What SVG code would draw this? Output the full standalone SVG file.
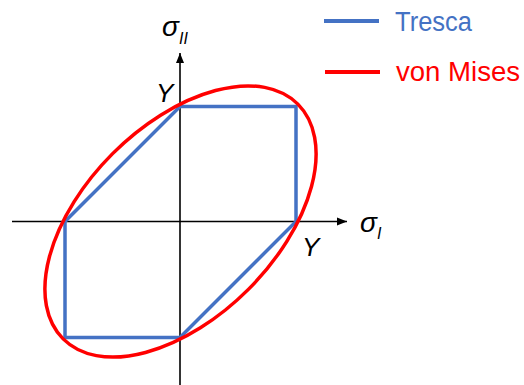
<svg xmlns="http://www.w3.org/2000/svg" width="524" height="385" viewBox="0 0 524 385">
<style>
.axis{stroke:#000;stroke-width:1.6;fill:none}
.lbl{font-family:"Liberation Sans",Arial,sans-serif;font-style:italic;fill:#000}
.leg{font-family:"Liberation Sans",Arial,sans-serif;font-size:27px}
</style>
<defs>
<marker id="arr" viewBox="0 0 10 10" refX="10" refY="5" markerWidth="10" markerHeight="10" markerUnits="userSpaceOnUse" orient="auto">
<path d="M0,1 L10,5 L0,9 Z" fill="#000"/>
</marker>
</defs>
<rect width="524" height="385" fill="#fff"/>
<g id="connectors">
<line class="axis" x1="12" y1="221.5" x2="347" y2="221.5" marker-end="url(#arr)"/>
<line class="axis" x1="180" y1="385" x2="180" y2="53" marker-end="url(#arr)"/>
</g>
<g id="tresca">
<polygon points="180,106.5 296,106.5 296,221.5 180,337.5 65,337.5 65,221.5" fill="none" stroke="#4472C4" stroke-width="3.5"/>
</g>
<g id="vonmises">
<ellipse cx="180.5" cy="221.5" rx="166" ry="96" transform="rotate(-45 180.5 221.5)" fill="none" stroke="#FF0000" stroke-width="3.5"/>
</g>
<g id="labels">
<text class="lbl" x="162" y="36" font-size="28">σ</text>
<text class="lbl" x="179" y="44" font-size="16">II</text>
<text class="lbl" x="360" y="232" font-size="28">σ</text>
<text class="lbl" x="377" y="239" font-size="16">I</text>
<text class="lbl" x="156" y="102" font-size="26">Y</text>
<text class="lbl" x="302" y="256" font-size="26">Y</text>
</g>
<g id="legend">
<line x1="324" y1="21" x2="379" y2="21" stroke="#4472C4" stroke-width="4"/>
<text class="leg" x="395" y="31" fill="#4472C4" textLength="77" lengthAdjust="spacingAndGlyphs">Tresca</text>
<line x1="325" y1="72" x2="380" y2="72" stroke="#FF0000" stroke-width="4"/>
<text class="leg" x="396" y="81" fill="#FF0000" textLength="124" lengthAdjust="spacingAndGlyphs">von Mises</text>
</g>
</svg>
